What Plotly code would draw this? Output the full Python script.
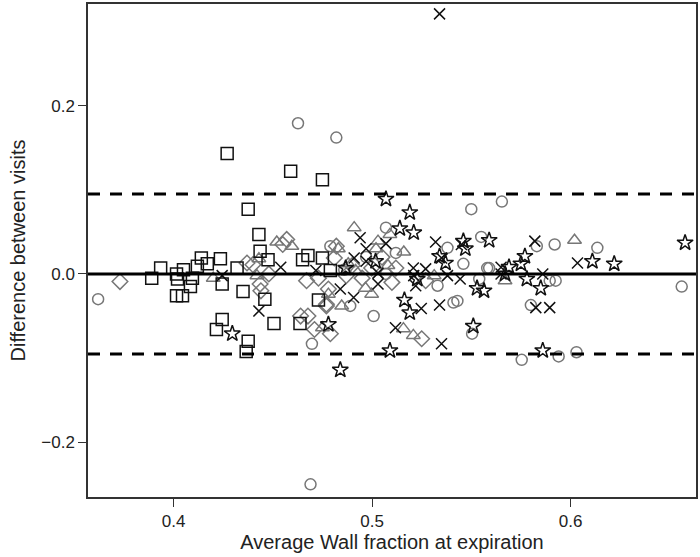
import plotly.graph_objects as go

# ---- data ----
circle_x = [0.362, 0.4627, 0.482, 0.507, 0.550, 0.5654, 0.479, 0.538, 0.555, 0.546, 0.558, 0.507, 0.533,
            0.554, 0.489, 0.541, 0.543, 0.583, 0.592, 0.6135, 0.559, 0.5895, 0.5925, 0.656, 0.580, 0.5008,
            0.4697, 0.469, 0.5504, 0.5754, 0.594, 0.603, 0.497, 0.512, 0.486]
circle_y = [-0.030, 0.179, 0.162, 0.055, 0.077, 0.086, 0.033, 0.031, 0.044, 0.012, 0.007, 0.000, -0.014,
            -0.006, -0.038, -0.034, -0.032, 0.033, 0.035, 0.031, 0.007, -0.008, -0.008, -0.015, -0.037, -0.050,
            -0.083, -0.250, -0.071, -0.102, -0.098, -0.093, 0.020, 0.025, 0.005]

diamond_x = [0.373, 0.457, 0.437, 0.4436, 0.448, 0.440, 0.464, 0.4677, 0.477, 0.471, 0.479, 0.482, 0.481,
             0.487, 0.4998, 0.512, 0.527, 0.467, 0.473, 0.478, 0.477, 0.525, 0.455, 0.444, 0.490, 0.495,
             0.505, 0.510]
diamond_y = [-0.009, 0.041, 0.013, -0.012, 0.000, 0.011, -0.050, -0.050, -0.038, -0.066, -0.071, 0.033, 0.019,
             -0.002, 0.007, 0.007, -0.008, -0.008, -0.005, -0.018, -0.036, -0.077, 0.035, -0.020, 0.010, -0.005,
             0.020, -0.010]

triangle_x = [0.491, 0.509, 0.602, 0.452, 0.443, 0.420, 0.442, 0.4847, 0.475, 0.503, 0.4596, 0.502, 0.483,
              0.516, 0.4917, 0.5313, 0.478, 0.4967, 0.4998, 0.567, 0.5158, 0.5208, 0.488, 0.508]
triangle_y = [0.055, 0.047, 0.040, 0.038, 0.018, -0.005, -0.002, -0.038, -0.064, 0.039, 0.033, 0.030, 0.030,
              0.026, 0.004, -0.002, -0.024, -0.017, -0.024, -0.008, -0.065, -0.073, 0.012, 0.010]

square_x = [0.427, 0.459, 0.475, 0.4376, 0.443, 0.4436, 0.4476, 0.414, 0.417, 0.412, 0.4236, 0.3935, 0.389,
            0.4015, 0.405, 0.402, 0.4095, 0.4085, 0.4015, 0.4045, 0.432, 0.4245, 0.435, 0.446, 0.4245,
            0.4216, 0.4376, 0.4366, 0.4506, 0.4637, 0.473, 0.4677, 0.465, 0.475, 0.479]
square_y = [0.143, 0.122, 0.112, 0.077, 0.047, 0.027, 0.017, 0.019, 0.012, 0.009, 0.018, 0.007, -0.005,
            0.000, 0.005, -0.006, -0.005, -0.015, -0.026, -0.026, 0.007, -0.012, -0.021, -0.030, -0.054,
            -0.066, -0.080, -0.092, -0.059, -0.059, -0.031, 0.022, 0.017, 0.019, 0.004]

cross_x = [0.534, 0.454, 0.4245, 0.443, 0.494, 0.497, 0.507, 0.532, 0.535, 0.545, 0.4717, 0.491, 0.497,
           0.503, 0.5208, 0.527, 0.521, 0.522, 0.538, 0.5444, 0.484, 0.503, 0.4907, 0.5248, 0.534, 0.582,
           0.565, 0.6035, 0.565, 0.586, 0.5825, 0.5895, 0.5118, 0.535]
cross_y = [0.309, 0.008, -0.002, -0.044, 0.043, 0.030, 0.036, 0.038, 0.019, 0.035, 0.004, 0.019, 0.015,
           0.001, 0.007, 0.006, -0.002, -0.014, -0.002, -0.006, -0.018, -0.012, -0.028, -0.041, -0.037, 0.039,
           0.008, 0.013, 0.000, 0.000, -0.040, -0.040, -0.064, -0.083]

star_x = [0.507, 0.519, 0.514, 0.521, 0.534, 0.537, 0.546, 0.547, 0.559, 0.4867, 0.5018, 0.5228, 0.5529,
          0.5564, 0.5163, 0.6577, 0.577, 0.575, 0.569, 0.611, 0.622, 0.567, 0.578, 0.585, 0.4296, 0.478,
          0.484, 0.519, 0.551, 0.509, 0.586]
star_y = [0.089, 0.073, 0.054, 0.049, 0.021, 0.013, 0.039, 0.030, 0.040, 0.007, 0.015, -0.006, -0.017,
          -0.020, -0.031, 0.037, 0.021, 0.012, 0.008, 0.015, 0.012, 0.000, -0.006, -0.017, -0.071, -0.060,
          -0.114, -0.046, -0.062, -0.091, -0.091]

mean_diff = 0.0
limit = 0.095
x_ticks = [0.4, 0.5, 0.6]
y_ticks = [-0.2, 0.0, 0.2]

GRAY = "#777777"
BLACK = "#111111"

fig = go.Figure()

def add(xs, ys, symbol, color, size):
    fig.add_trace(go.Scatter(
        x=xs, y=ys, mode="markers",
        marker=dict(symbol=symbol, size=size, color=color,
                    line=dict(color=color, width=1.5)),
        showlegend=False, hoverinfo="skip"))

add(circle_x, circle_y, "circle-open", GRAY, 11)
add(diamond_x, diamond_y, "diamond-open", GRAY, 12)
add(triangle_x, triangle_y, "triangle-up-open", GRAY, 12)
add(square_x, square_y, "square-open", BLACK, 12)
add(cross_x, cross_y, "x-thin-open", BLACK, 11)
add(star_x, star_y, "star-open", BLACK, 12)

fig.add_hline(y=mean_diff, line=dict(color="black", width=3))
for v in (limit, -limit):
    fig.add_hline(y=v, line=dict(color="black", width=3, dash="12px,10px"))

fig.update_layout(
    width=700, height=557,
    margin=dict(l=88, r=3, t=2, b=60),
    plot_bgcolor="white", paper_bgcolor="white",
    font=dict(family="Liberation Sans, Arial, sans-serif", size=17, color="#222"),
)
fig.update_xaxes(
    range=[0.3569, 0.6632], tickvals=x_ticks, tickformat=".1f",
    showgrid=False, zeroline=False, showline=True, mirror=True,
    linecolor="#333", linewidth=1.5, ticks="outside", ticklen=8, tickcolor="#333",
    title=dict(text="Average Wall fraction at expiration", font=dict(size=20), standoff=5),
)
fig.update_yaxes(
    range=[-0.265, 0.3207], tickvals=y_ticks, tickformat=".1f",
    showgrid=False, zeroline=False, showline=True, mirror=True,
    linecolor="#333", linewidth=1.5, ticks="outside", ticklen=8, tickcolor="#333",
    title=dict(text="Difference between visits", font=dict(size=20), standoff=10),
)

fig.write_html("out.html", config={"displayModeBar": False},
               post_script="document.body.style.margin='0px';document.body.style.overflow='hidden';")
